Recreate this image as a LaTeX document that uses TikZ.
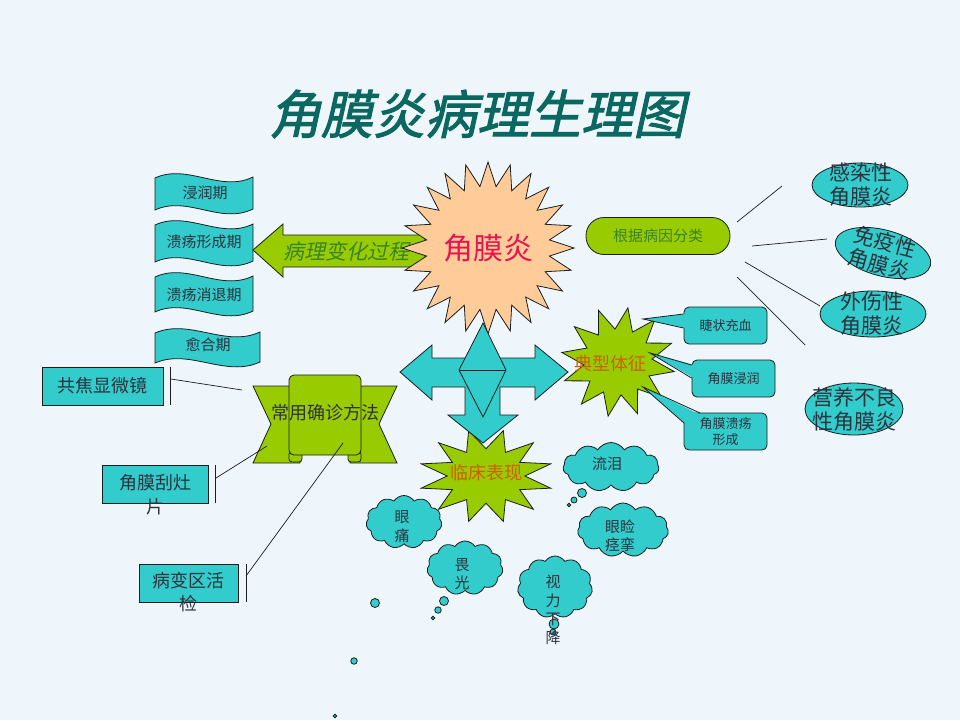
\documentclass[tikz,border=0pt]{standalone}
\usepackage{fontspec}
\setmainfont{Noto Sans CJK SC}
\newfontfamily\titlefont[FakeSlant=0.22,FakeBold=2]{Noto Sans CJK SC}
\newfontfamily\itfont[FakeSlant=0.22]{Noto Sans CJK SC}
\usetikzlibrary{shapes.symbols,shapes.geometric}
\definecolor{bg}{RGB}{238,246,252}
\definecolor{tealf}{RGB}{51,204,204}
\definecolor{limef}{RGB}{153,204,0}
\definecolor{peach}{RGB}{255,204,153}
\definecolor{titlec}{RGB}{10,104,96}
\definecolor{txt}{RGB}{45,50,60}
\definecolor{orangec}{RGB}{204,96,0}
\definecolor{greent}{RGB}{60,130,40}
\definecolor{redc}{RGB}{230,20,80}
\definecolor{edge}{RGB}{25,30,30}
\newcommand\fs[2]{\fontsize{#1}{#2}\selectfont}
% style, cx, cy, 2n-1, rx, ry, inner factor, start angle
\newcommand\starshape[8]{%
  \draw[#1] plot[samples at={0,...,#4}, variable=\k]
    ({#2+#5*(1-(1-#7)*mod(\k,2))*cos(#8+\k*(360/(#4+1)))},
     {#3-#6*(1-(1-#7)*mod(\k,2))*sin(#8+\k*(360/(#4+1)))}) -- cycle;}
% x0, y0 (top-left), w, h
\newcommand\wavepath[4]{%
  \draw[tealshape] (#1,#2+6) .. controls (#1+0.33*#3,#2-9) and (#1+0.67*#3,#2+21) .. (#1+#3,#2+5)
    -- (#1+#3,#2+#4+5) .. controls (#1+0.67*#3,#2+#4+21) and (#1+0.33*#3,#2+#4-9) .. (#1,#2+#4+6) -- cycle;}
\tikzset{
  outl/.style={draw=edge, line width=0.8pt},
  tealshape/.style={outl, fill=tealf},
  limeshape/.style={outl, fill=limef},
  peachshape/.style={outl, fill=peach},
  conn/.style={draw=edge, line width=0.7pt},
  lbl/.style={inner sep=0, text=txt, align=center},
  cloudst/.style={cloud, cloud puffs=11, cloud puff arc=115, cloud ignores aspect, tealshape, inner sep=0},
  bubble/.style={circle, tealshape, inner sep=0},
}
\begin{document}
\begin{tikzpicture}[x=1pt,y=-1pt]
\fill[bg] (0,0) rectangle (960,720);
\useasboundingbox (0,0) rectangle (960,720);

% title
\node[inner sep=0, text=titlec, font=\titlefont\fs{52}{60}] (title) at (477,114) {角膜炎病理生理图};

% wave boxes
\wavepath{155}{172}{98}{32}
\node[lbl, font=\fs{15}{18}] (w1) at (205,193) {浸润期};
\wavepath{155}{219}{98}{37}
\node[lbl, font=\fs{15}{18}] (w2) at (204,242) {溃疡形成期};
\wavepath{155}{271}{98}{35}
\node[lbl, font=\fs{15}{18}] (w3) at (204,295) {溃疡消退期};
\wavepath{155}{327}{105}{30}
\node[lbl, font=\fs{15}{18}] (w4) at (208,345) {愈合期};

% pathology arrow
\draw[limeshape] (253,250) -- (283,224) -- (283,235) -- (425,235) -- (425,267) -- (283,267) -- (283,277) -- cycle;
\node[inner sep=0, text=greent, font=\itfont\fs{21}{24}] (pt) at (346,251) {病理变化过程};

% main star
\starshape{peachshape}{488}{248}{47}{86}{86}{0.72}{90}
\node[inner sep=0, text=redc, font=\fs{30}{34}] (kz) at (488,248) {角膜炎};

% clinical star
\starshape{limeshape}{486}{476}{23}{67}{47}{0.58}{75}

% four-way arrow
\draw[tealshape] (400,372) -- (432,345) -- (432,358) -- (535,358) -- (535,345) -- (568,372) -- (535,400) -- (535,387)
  -- (500,387) -- (500,415) -- (518,415) -- (483,443) -- (448,415) -- (465,415) -- (465,387) -- (432,387) -- (432,400) -- cycle;
\draw[tealshape] (483,323) -- (506,370) -- (483,417) -- (459,370) -- cycle;
\draw[outl] (459,370) -- (506,370);

\node[inner sep=0, text=orangec, font=\fs{18}{20}] (lc) at (486,473) {临床表现};

% typical signs star
\starshape{limeshape}{618}{362}{23}{57}{55}{0.6}{80}
\node[inner sep=0, text=orangec, font=\fs{18}{20}] (dx) at (610,364) {典型体征};

% callouts
\tikzset{cbox/.style={rectangle, rounded corners=5, tealshape, minimum width=83, minimum height=37, inner sep=0, text=txt, align=center, font=\fs{13}{16}}}
\node[cbox] (cb1) at (725.5,325.5) {睫状充血};
\node[cbox] (cb2) at (733.5,378.5) {角膜浸润};
\node[cbox] (cb3) at (725.5,431.5) {角膜溃疡\\形成};
\coordinate (p1) at (643,319);
\coordinate (p2) at (650,353);
\coordinate (p3) at (643,387);
\fill[tealf] (p1) -- (686,314) -- (686,328) -- cycle;
\draw[outl] (cb1.west |- 0,314) -- (p1) -- (cb1.west |- 0,328);
\fill[tealf] (p2) -- (694,365) -- (694,378) -- cycle;
\draw[outl] (cb2.west |- 0,365) -- (p2) -- (cb2.west |- 0,378);
\fill[tealf] (p3) -- (701,415) -- (686,424) -- cycle;
\draw[outl] (700,413) -- (p3) -- (684,423);

% cause classification
\node[rectangle, rounded corners=18, limeshape, minimum width=144, minimum height=37, inner sep=0, text=greent, font=\fs{15}{18}] (pill) at (658,236) {根据病因分类};
\coordinate (l1a) at (737,222); \coordinate (l1b) at (782,186);
\coordinate (l2a) at (752,246); \coordinate (l2b) at (827,239);
\coordinate (l3a) at (745,262); \coordinate (l3b) at (820,306);
\coordinate (l4a) at (737,277); \coordinate (l4b) at (805,345);
\draw[conn] (l1a) -- (l1b);
\draw[conn] (l2a) -- (l2b);
\draw[conn] (l3a) -- (l3b);
\draw[conn] (l4a) -- (l4b);

\node[ellipse, tealshape, minimum width=96, minimum height=44, inner sep=0] (e1) at (860,185) {};
\node[lbl, font=\fs{21}{24}] (e1t) at (861,185) {感染性\\角膜炎};
\node[ellipse, tealshape, minimum width=98, minimum height=46, inner sep=0, rotate=-15] (e2) at (883,253) {};
\node[lbl, font=\fs{21}{23}, rotate=-15] (e2t) at (882,253) {免疫性\\角膜炎};
\node[ellipse, tealshape, minimum width=106, minimum height=46, inner sep=0] (e3) at (873,314) {};
\node[lbl, font=\fs{21}{24}] (e3t) at (872,314) {外伤性\\角膜炎};
\node[ellipse, tealshape, minimum width=98, minimum height=52, inner sep=0] (e4) at (854,409) {};
\node[lbl, font=\fs{21}{24}] (e4t) at (854,410) {营养不良\\性角膜炎};

% diagnosis banner
\draw[limeshape] (253,386) -- (300,386) -- (300,463) -- (253,463) -- (271,424) -- cycle;
\draw[limeshape] (397,386) -- (350,386) -- (350,463) -- (397,463) -- (379,424) -- cycle;
\draw[limeshape, rounded corners=3] (289,451) rectangle (302,462);
\draw[limeshape, rounded corners=3] (348,451) rectangle (361,462);
\draw[limeshape, rounded corners=5] (289,455) -- (289,375) -- (361,375) -- (361,455) -- cycle;
\node[lbl, font=\fs{18}{20}] (bn) at (325,413) {常用确诊方法};

% diagnosis boxes
\node[rectangle, tealshape, minimum width=121, minimum height=38, inner sep=0] (d1) at (102.5,386) {};
\node[lbl, font=\fs{18}{20}] (d1t) at (d1) {共焦显微镜};
\node[rectangle, tealshape, minimum width=106, minimum height=38, inner sep=0] (d2) at (155,484) {};
\node[lbl, anchor=north, font=\fs{18}{24}] (d2t) at (155,474) {角膜刮灶\\片};
\node[rectangle, tealshape, minimum width=99, minimum height=38, inner sep=0] (d3) at (188.5,583) {};
\node[lbl, anchor=north, font=\fs{18}{23}] (d3t) at (188,572) {病变区活\\检};
\draw[conn] ([xshift=7]d1.north east) -- ([xshift=7]d1.south east);
\draw[conn] ([xshift=7]d2.north east) -- ([xshift=7]d2.south east);
\draw[conn] ([xshift=8]d3.north east) -- ([xshift=8]d3.south east);
\coordinate (k1a) at (171,379); \coordinate (k1b) at (242,390);
\coordinate (k2a) at (216,478); \coordinate (k2b) at (267,446);
\coordinate (k3a) at (246,576); \coordinate (k3b) at (343,443);
\draw[conn] (k1a) -- (k1b);
\draw[conn] (k2a) -- (k2b);
\draw[conn] (k3a) -- (k3b);

% clouds
\node[cloudst, minimum width=96, minimum height=49] (c1) at (611,467) {};
\node[lbl, font=\fs{15}{18}] (c1t) at (607,464) {流泪};
\node[cloudst, minimum width=91, minimum height=54] (c2) at (623,530) {};
\node[lbl, font=\fs{15}{18}] (c2t) at (620,536) {眼睑\\痉挛};
\node[cloudst, minimum width=76, minimum height=53] (c3) at (404,522) {};
\node[lbl, font=\fs{15}{19}] (c3t) at (402,527) {眼\\痛};
\node[cloudst, minimum width=76, minimum height=54] (c4) at (465,568) {};
\node[lbl, font=\fs{15}{18}] (c4t) at (462,574) {畏\\光};
\node[cloudst, minimum width=75, minimum height=62] (c5) at (555,587) {};
\node[bubble, minimum size=10] (b51) at (554,624) {};
\node[bubble, minimum size=6] (b52) at (553,632) {};
\node[lbl, font=\fs{15}{18.5}] (c5t) at (553,610) {视\\力\\下\\降};

\node[bubble, minimum size=9] (b11) at (582,493) {};
\node[bubble, minimum size=6] (b12) at (574,500) {};
\node[bubble, minimum size=3.5] (b13) at (569,505) {};
\node[bubble, minimum size=9] (b41) at (444,601) {};
\node[bubble, minimum size=6.5] (b42) at (438,610) {};
\node[bubble, minimum size=3.5] (b43) at (433,618) {};
\node[bubble, minimum size=9] (b01) at (375,603) {};
\node[bubble, minimum size=6.5] (b02) at (354,661) {};
\node[bubble, minimum size=3.5] (b03) at (335,716) {};
\end{tikzpicture}
\end{document}
